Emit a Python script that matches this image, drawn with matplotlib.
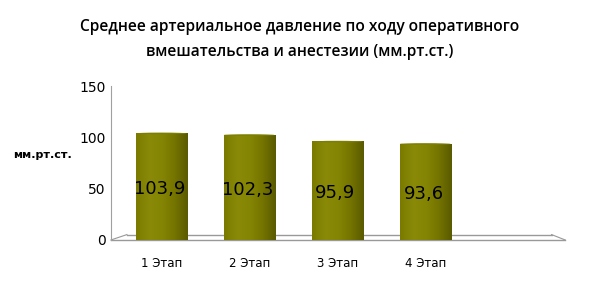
import numpy as np
import matplotlib.pyplot as plt
from matplotlib.colors import LinearSegmentedColormap
from matplotlib.patches import Ellipse

categories = ['1 Этап', '2 Этап', '3 Этап', '4 Этап']
values = [103.9, 102.3, 95.9, 93.6]
value_labels = ['103,9', '102,3', '95,9', '93,6']
title = 'Среднее артериальное давление по ходу оперативного\nвмешательства и анестезии (мм.рт.ст.)'

fig = plt.figure(figsize=(6, 2.93), dpi=100)
ax = fig.add_axes([0.185, 0.181, 0.757, 0.525])

cyl = LinearSegmentedColormap.from_list(
    'cyl', ['#7a7a00', '#8a8a08', '#858504', '#747400', '#5a5a00'])
grad = np.linspace(0, 1, 64).reshape(1, -1)

x = np.arange(len(categories))
w = 0.58
for xi, v, lab in zip(x, values, value_labels):
    ax.imshow(grad, cmap=cyl, aspect='auto', extent=[xi - w / 2, xi + w / 2, 0, v],
              zorder=2, interpolation='bilinear')
    ax.add_patch(Ellipse((xi, v), w, 1.6, facecolor='#7e7e00', edgecolor='none', zorder=3))
    ax.text(xi - 0.02, v / 2 - 2, lab, ha='center', va='center', fontsize=13,
            color='black', zorder=4)

ax.set_xlim(-0.57, 4.59)
ax.set_ylim(0, 150)
ax.set_yticks([0, 50, 100, 150])
ax.set_xticks(x)
ax.set_xticklabels(categories, fontsize=8.5)
ax.tick_params(axis='y', labelsize=10, length=0, pad=4)
ax.tick_params(axis='x', length=0, pad=12)

for s in ['top', 'right', 'bottom']:
    ax.spines[s].set_visible(False)
ax.spines['left'].set_color('#a0a0a0')

# перспективный "пол" диаграммы
gc = '#999999'
ax.plot([0, 1], [0, 0], transform=ax.transAxes, color=gc, lw=1, clip_on=False, zorder=1)
ax.plot([0.035, 0.97], [0.035, 0.035], transform=ax.transAxes, color=gc, lw=1,
        clip_on=False, zorder=1)
ax.plot([0, 0.035], [0, 0.035], transform=ax.transAxes, color=gc, lw=0.8, clip_on=False)
ax.plot([0.97, 1], [0.035, 0], transform=ax.transAxes, color=gc, lw=0.8, clip_on=False)

fig.text(0.5, 0.865, title, ha='center', va='center', fontsize=11.2,
         family='Open Sans', fontweight='semibold', linespacing=1.75)
fig.text(0.022, 0.47, 'мм.рт.ст.', ha='left', va='center', fontsize=8, fontweight='bold')

fig.savefig('out.png', dpi=100)
